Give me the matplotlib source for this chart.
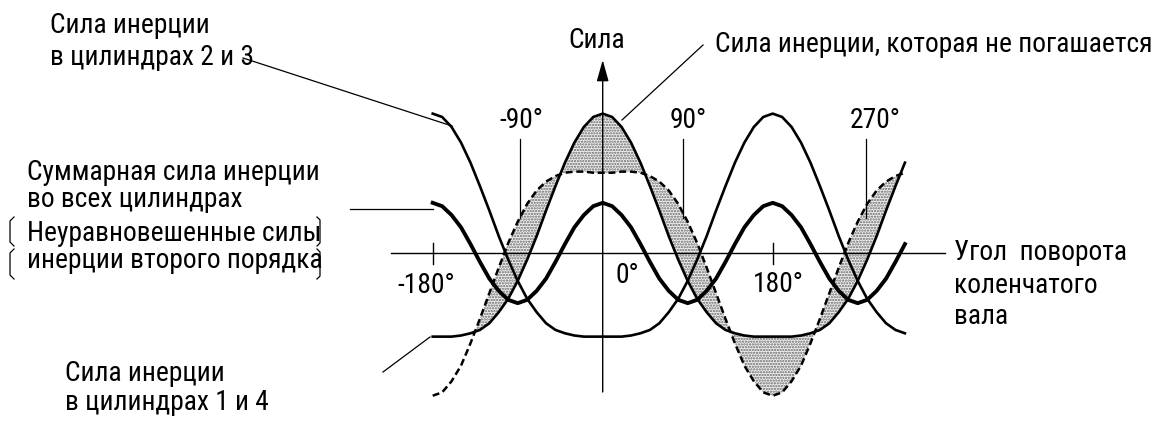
import numpy as np
import matplotlib
matplotlib.use("Agg")
import matplotlib.pyplot as plt
from matplotlib import font_manager

# narrow font if there is one, otherwise Liberation Sans a bit smaller
names = {f.name for f in font_manager.fontManager.ttflist}
fs = 17.6
for fam, size in [('Liberation Sans Narrow', 21.5), ('Roboto Condensed', 19.8),
                  ('Open Sans Condensed', 19.8)]:
    if fam in names:
        fs = size
        plt.rcParams['font.family'] = [fam, 'DejaVu Sans']
        break
else:
    plt.rcParams['font.family'] = ['Liberation Sans', 'DejaVu Sans']
plt.rcParams['hatch.linewidth'] = 1.1

# crank angle, degrees
angles = np.arange(-180, 330, 10)

# inertia force, cylinders 1 and 4
cyl_14 = [-0.75, -0.75, -0.75, -0.74, -0.72, -0.69, -0.63, -0.53, -0.41, -0.25,
          -0.06, 0.15, 0.38, 0.60, 0.81, 0.99, 1.13, 1.22, 1.25, 1.22,
          1.13, 0.99, 0.81, 0.60, 0.38, 0.15, -0.06, -0.25, -0.41, -0.53,
          -0.63, -0.69, -0.72, -0.74, -0.75, -0.75, -0.75, -0.75, -0.75, -0.74,
          -0.72, -0.69, -0.63, -0.53, -0.41, -0.25, -0.06, 0.15, 0.38, 0.60, 0.81]

# inertia force, cylinders 2 and 3
cyl_23 = [1.25, 1.22, 1.13, 0.99, 0.81, 0.60, 0.38, 0.15, -0.06, -0.25,
          -0.41, -0.53, -0.63, -0.69, -0.72, -0.74, -0.75, -0.75, -0.75, -0.75,
          -0.75, -0.74, -0.72, -0.69, -0.63, -0.53, -0.41, -0.25, -0.06, 0.15,
          0.38, 0.60, 0.81, 0.99, 1.13, 1.22, 1.25, 1.22, 1.13, 0.99,
          0.81, 0.60, 0.38, 0.15, -0.06, -0.25, -0.41, -0.53, -0.63, -0.69, -0.72]

# total (second order) force in all cylinders
total = [0.45, 0.42, 0.34, 0.23, 0.08, -0.08, -0.23, -0.34, -0.42, -0.45,
         -0.42, -0.34, -0.23, -0.08, 0.08, 0.23, 0.34, 0.42, 0.45, 0.42,
         0.34, 0.23, 0.08, -0.08, -0.23, -0.34, -0.42, -0.45, -0.42, -0.34,
         -0.23, -0.08, 0.08, 0.23, 0.34, 0.42, 0.45, 0.42, 0.34, 0.23,
         0.08, -0.08, -0.23, -0.34, -0.42, -0.45, -0.42, -0.34, -0.23, -0.08, 0.08]

# mirrored 2-3 force (dashed), the gap to cyl_14 is not cancelled
mirror_23 = [-1.28, -1.25, -1.15, -1.01, -0.81, -0.59, -0.36, -0.13, 0.09, 0.28,
             0.44, 0.56, 0.64, 0.69, 0.72, 0.73, 0.73, 0.72, 0.72, 0.72,
             0.73, 0.73, 0.72, 0.69, 0.64, 0.56, 0.44, 0.28, 0.09, -0.13,
             -0.36, -0.59, -0.81, -1.01, -1.15, -1.25, -1.28, -1.25, -1.15, -1.01,
             -0.81, -0.59, -0.36, -0.13, 0.09, 0.28, 0.44, 0.56, 0.64, 0.69, 0.72]

tick_angles = [-180, 180]
tick_labels = ['-180°', '0°', '180°']
marked_angles = [-90, 90, 270]

# pixel <-> data helpers for the annotation layout
X0, SX = 602.7, 170 / 180
Y0, SY = 253.0, 111.5


def px(x, y):
    return ((x - X0) / SX, (Y0 - y) / SY)


fig = plt.figure(figsize=(11.59, 4.21), dpi=100)
ax = fig.add_axes([0, 0, 1, 1])
ax.set_xlim(px(0, 0)[0], px(1159, 0)[0])
ax.set_ylim(px(0, 421)[1], px(0, 0)[1])
ax.axis('off')

a = np.array(angles)
f14 = np.array(cyl_14)
m23 = np.array(mirror_23)

# shaded part: uncancelled force
ax.fill_between(a, f14, m23, where=(a >= -130) & (a <= 310), interpolate=True,
                facecolor='#f0f0f0', edgecolor='#666666', hatch='......',
                linewidth=0, zorder=1)

# axes
ax.plot([px(391, 0)[0], px(945, 0)[0]], [0, 0], color='k', lw=1.0, zorder=2)
ax.annotate('', xy=(0, px(0, 60)[1]), xytext=(0, px(0, 392)[1]),
            arrowprops=dict(arrowstyle='-|>,head_length=1.0,head_width=0.28',
                            mutation_scale=13, lw=1.0, color='k',
                            shrinkA=0, shrinkB=0), zorder=2)
for t in tick_angles:
    ax.plot([t, t], [px(0, 243)[1], px(0, 264)[1]], color='k', lw=1.0, zorder=2)

# curves
ax.plot(a, cyl_23, color='k', lw=1.9, zorder=3)
ax.plot(a, cyl_14, color='k', lw=1.9, zorder=3)
ax.plot(a, total, color='k', lw=2.8, zorder=3)
ax.plot(a, mirror_23, color='k', lw=1.8, ls=(0, (2.8, 1.5)), zorder=3)

txt = dict(fontsize=fs, color='k')

# angle labels on the axis
ax.text(*px(426.5, 293), tick_labels[0], ha='center', va='baseline', **txt)
ax.text(*px(627.5, 283), tick_labels[1], ha='center', va='baseline', **txt)
ax.text(*px(778.5, 292), tick_labels[2], ha='center', va='baseline', **txt)

# marked angles with pointer lines
for ang, xl, xline in zip(marked_angles, [521, 688, 875.5], [520, 683, 866]):
    ax.text(*px(xl, 128), f'{ang}°', ha='center', va='baseline', **txt)
    x_ = px(xline, 0)[0]
    ax.plot([x_, x_], [px(0, 139)[1], px(0, 218)[1]], color='k', lw=0.9, zorder=2)

ax.text(*px(597, 48), 'Сила', ha='center', va='baseline', **txt)

# right axis title
ax.text(*px(954, 260), 'Угол  поворота', ha='left', va='baseline', **txt)
ax.text(*px(954, 293), 'коленчатого', ha='left', va='baseline', **txt)
ax.text(*px(954, 324), 'вала', ha='left', va='baseline', **txt)

# top-right annotation
ax.text(*px(715, 52), 'Сила инерции, которая не погашается', ha='left', va='baseline', **txt)
p1, p2 = px(703, 45), px(622, 120)
ax.plot([p1[0], p2[0]], [p1[1], p2[1]], color='k', lw=0.9, zorder=4)

# top-left annotation
ax.text(*px(50, 33), 'Сила инерции', ha='left', va='baseline', **txt)
ax.text(*px(50, 65), 'в цилиндрах 2 и 3', ha='left', va='baseline', **txt)
p1, p2 = px(243, 58), px(452, 126)
ax.plot([p1[0], p2[0]], [p1[1], p2[1]], color='k', lw=0.9, zorder=4)

# middle-left annotation
ax.text(*px(27, 180), 'Суммарная сила инерции', ha='left', va='baseline', **txt)
ax.text(*px(27, 207), 'во всех цилиндрах', ha='left', va='baseline', **txt)
ax.text(*px(27, 241), 'Неуравновешенные силы', ha='left', va='baseline', **txt)
ax.text(*px(27, 268), 'инерции второго порядка', ha='left', va='baseline', **txt)
p1, p2 = px(350, 209), px(433, 209)
ax.plot([p1[0], p2[0]], [p1[1], p2[1]], color='k', lw=0.9, zorder=4)

# brackets round the second-order note
for y1, y2 in [(217, 246), (249, 279)]:
    pts = [px(14, y1), px(10, y1 + 4), px(10, y2 - 4), px(14, y2)]
    ax.plot([p[0] for p in pts], [p[1] for p in pts], color='k', lw=0.9)
    pts = [px(317, y1), px(320, y1 + 3), px(320, y2 - 3), px(317, y2)]
    ax.plot([p[0] for p in pts], [p[1] for p in pts], color='k', lw=0.9)

# bottom-left annotation
ax.text(*px(65, 381), 'Сила инерции', ha='left', va='baseline', **txt)
ax.text(*px(65, 410), 'в цилиндрах 1 и 4', ha='left', va='baseline', **txt)
p1, p2 = px(383, 372), px(430, 337)
ax.plot([p1[0], p2[0]], [p1[1], p2[1]], color='k', lw=0.9, zorder=4)

fig.savefig('out.png', dpi=100)
